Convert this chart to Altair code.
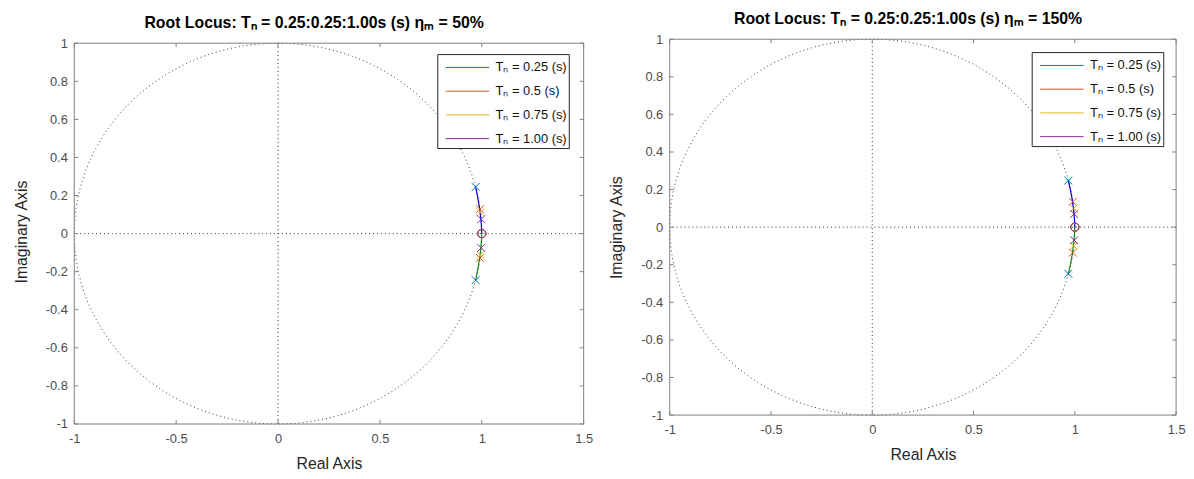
import altair as alt
import pandas as pd
import numpy as np

FONT = "Liberation Sans"

series = ["Tₙ = 0.25 (s)", "Tₙ = 0.5 (s)", "Tₙ = 0.75 (s)", "Tₙ = 1.00 (s)"]
colors = ["#0072BD", "#D95319", "#EDB120", "#7E2F8E"]

# poles (upper half; lower half mirrored)
left_pole_re = [0.970, 0.991, 0.993, 0.997]
left_pole_im = [0.245, 0.128, 0.112, 0.075]
right_pole_re = [0.968, 0.990, 0.995, 0.997]
right_pole_im = [0.248, 0.135, 0.100, 0.070]
zero_re = [1.0, 1.0, 1.0, 1.0]
zero_im = [0.0, 0.0, 0.0, 0.0]

# locus branches (upper blue, lower green)
left_up_re = [0.970, 0.980, 0.988, 0.994, 0.998, 1.0]
left_up_im = [0.245, 0.190, 0.140, 0.090, 0.045, 0.0]
left_lo_re = [0.970, 0.980, 0.988, 0.994, 0.998, 1.0]
left_lo_im = [-0.245, -0.190, -0.140, -0.090, -0.045, 0.0]
right_up_re = [0.968, 0.979, 0.988, 0.994, 0.998, 1.0]
right_up_im = [0.248, 0.195, 0.140, 0.090, 0.045, 0.0]
right_lo_re = [0.968, 0.979, 0.988, 0.994, 0.998, 1.0]
right_lo_im = [-0.248, -0.195, -0.140, -0.090, -0.045, 0.0]

x_ticks = [-1, -0.5, 0, 0.5, 1, 1.5]
y_ticks = [-1, -0.8, -0.6, -0.4, -0.2, 0, 0.2, 0.4, 0.6, 0.8, 1]
x_lim = [-1, 1.5]
y_lim = [-1, 1]

# unit circle of the z-plane grid
theta = np.linspace(0, 2 * np.pi, 721)
circle_df = pd.DataFrame({"x": np.cos(theta), "y": np.sin(theta), "i": np.arange(len(theta))})

LABEL_EXPR = "datum.value < 0 ? '-' + format(-datum.value, '~g') : format(datum.value, '~g')"
FRAME = "#808080"


def panel(pole_re, pole_im, up_re, up_im, lo_re, lo_im, title, W, H, top_gap, leg_off):
    # top_gap: blank pixels kept above the axes box (so both panels share one view top)
    y_top = y_lim[1] + top_gap * (y_lim[1] - y_lim[0]) / (H - top_gap)
    xs = alt.Scale(domain=x_lim, nice=False, zero=False)
    ys = alt.Scale(domain=[y_lim[0], y_top], nice=False, zero=False)
    xaxis = alt.Axis(values=x_ticks, title="Real Axis", labelExpr=LABEL_EXPR, tickSize=0,
                     domain=False, grid=False, labelPadding=9, titlePadding=10, labelFlush=False,
                     labelOverlap=False, labelFont=FONT, labelFontSize=13, labelColor="#4d4d4d",
                     titleFont=FONT, titleFontSize=16, titleFontWeight="normal", titleColor="#262626")
    yaxis = alt.Axis(values=y_ticks, title="Imaginary Axis", labelExpr=LABEL_EXPR, tickSize=0,
                     domain=False, grid=False, labelPadding=7, titlePadding=16, labelFlush=False,
                     labelOverlap=False, labelFont=FONT, labelFontSize=13, labelColor="#4d4d4d",
                     titleFont=FONT, titleFontSize=16, titleFontWeight="normal", titleColor="#262626")
    X = alt.X("x:Q", scale=xs, axis=xaxis)
    Y = alt.Y("y:Q", scale=ys, axis=yaxis)

    dot = dict(color="#333333", strokeDash=[1, 3], strokeWidth=1)
    circ = alt.Chart(circle_df).mark_line(**dot).encode(x=X, y=Y, order="i:Q")
    vline = alt.Chart(pd.DataFrame({"x": [0], "y": [y_lim[0]], "y2": [y_lim[1]]})).mark_rule(**dot).encode(
        x=X, y=Y, y2="y2:Q")
    hline = alt.Chart(pd.DataFrame({"y": [0]})).mark_rule(**dot).encode(y=Y)

    up = alt.Chart(pd.DataFrame({"x": up_re, "y": up_im, "i": range(len(up_re))})).mark_line(
        color="#0000dd", strokeWidth=1.2).encode(x=X, y=Y, order="i:Q")
    lo = alt.Chart(pd.DataFrame({"x": lo_re, "y": lo_im, "i": range(len(lo_re))})).mark_line(
        color="#118811", strokeWidth=1.2).encode(x=X, y=Y, order="i:Q")

    rows = []
    for s, re, im in zip(series, pole_re, pole_im):
        rows.append({"series": s, "x": re, "y": im})
        rows.append({"series": s, "x": re, "y": -im})
    poles_df = pd.DataFrame(rows)
    zeros_df = pd.DataFrame({"series": series, "x": zero_re, "y": zero_im})

    color = alt.Color("series:N", scale=alt.Scale(domain=series, range=colors), legend=alt.Legend(
        title=None, orient="top-right", offset=leg_off, padding=2, fillColor="white", strokeColor="#262626",
        symbolType="M-2,0H2", symbolSize=484, symbolStrokeWidth=1, symbolOffset=17, labelOffset=17,
        labelFont=FONT, labelFontSize=13, labelColor="#111111", rowPadding=5, cornerRadius=0))

    poles = alt.Chart(poles_df).mark_point(shape="M-1,-1L1,1M-1,1L1,-1", filled=False, size=64,
                                           strokeWidth=1, opacity=1).encode(x=X, y=Y, color=color)
    zeros = alt.Chart(zeros_df).mark_point(shape="circle", filled=False, size=70, strokeWidth=1,
                                           opacity=1).encode(x=X, y=Y, color=color)

    # axes box
    fr = dict(color=FRAME, strokeWidth=1)
    box_h = alt.Chart(pd.DataFrame({"x": [x_lim[0]] * 2, "x2": [x_lim[1]] * 2, "y": y_lim})).mark_rule(**fr).encode(
        x=X, x2="x2:Q", y=Y)
    box_v = alt.Chart(pd.DataFrame({"x": x_lim, "y": [y_lim[0]] * 2, "y2": [y_lim[1]] * 2})).mark_rule(**fr).encode(
        x=X, y=Y, y2="y2:Q")

    # inward ticks on all four sides
    xt = pd.DataFrame({"x": x_ticks, "y": [y_lim[1]] * len(x_ticks)})
    yt = pd.DataFrame({"y": y_ticks})
    t_bottom = alt.Chart(xt).mark_rule(**fr).encode(x=X, y=alt.value(H), y2=alt.value(H - 4))
    t_top = alt.Chart(xt).mark_rule(y2Offset=4, **fr).encode(x=X, y=Y, y2="y:Q")
    t_left = alt.Chart(yt).mark_rule(**fr).encode(y=Y, x=alt.value(0), x2=alt.value(4))
    t_right = alt.Chart(yt).mark_rule(**fr).encode(y=Y, x=alt.value(W), x2=alt.value(W - 4))

    return alt.layer(circ, vline, hline, up, lo, poles, zeros, box_h, box_v,
                     t_bottom, t_top, t_left, t_right).properties(
        width=W, height=H,
        title=alt.TitleParams(text=title, font=FONT, fontSize=16, fontWeight="bold", color="#000000",
                              anchor="middle", frame="group", dx=-15, offset=6))


left = panel(left_pole_re, left_pole_im, left_up_re, left_up_im, left_lo_re, left_lo_im,
             "Root Locus: Tₙ = 0.25:0.25:1.00s (s) ηₘ = 50%", 515, 389, 4, 15)
right = panel(right_pole_re, right_pole_im, right_up_re, right_up_im, right_lo_re, right_lo_im,
              "Root Locus: Tₙ = 0.25:0.25:1.00s (s) ηₘ = 150%", 512, 380, 0, 13)

chart = alt.hconcat(left, right, spacing=15).resolve_scale(color="independent").resolve_legend(
    color="independent").configure_view(stroke="transparent").properties(
    padding={"left": 5, "top": 0, "right": 0, "bottom": 0}, background="white")

chart.save("out.html", embed_options={"renderer": "svg", "actions": False})
